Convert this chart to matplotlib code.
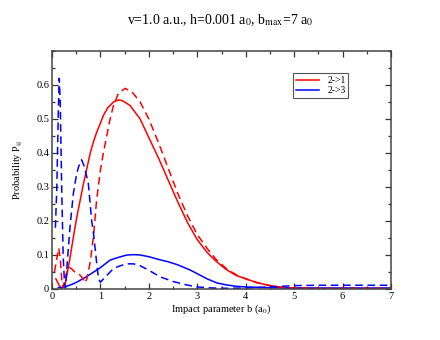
import matplotlib
matplotlib.use("Agg")
import matplotlib.pyplot as plt
from matplotlib.ticker import MultipleLocator

# 2->1, solid
b_21_s = [0.08, 0.15, 0.2, 0.27, 0.37, 0.45, 0.51, 0.58, 0.65, 0.72, 0.79, 0.85, 0.92, 1.0,
          1.06, 1.15, 1.27, 1.37, 1.45, 1.61, 1.82, 2.0, 2.2, 2.4, 2.6, 2.8, 3.0, 3.2, 3.4,
          3.6, 3.8, 4.0, 4.25, 4.5, 4.75, 5.0, 5.5, 6.0, 7.0]
p_21_s = [0.03, 0.01, 0.002, 0.012, 0.09, 0.16, 0.21, 0.26, 0.31, 0.355, 0.40, 0.43, 0.46,
          0.488, 0.51, 0.533, 0.55, 0.556, 0.554, 0.54, 0.50, 0.445, 0.385, 0.32, 0.255,
          0.195, 0.145, 0.108, 0.08, 0.057, 0.04, 0.03, 0.018, 0.01, 0.005, 0.002, 0.001,
          0.0005, 0.0]

# 2->1, dashed
b_21_d = [0.05, 0.1, 0.14, 0.17, 0.2, 0.23, 0.27, 0.34, 0.4, 0.47, 0.55, 0.61, 0.68, 0.72,
          0.79, 0.86, 0.92, 1.0, 1.06, 1.13, 1.2, 1.27, 1.37, 1.51, 1.65, 1.82, 2.0, 2.2, 2.4,
          2.6, 2.8, 3.0, 3.2, 3.4, 3.6, 3.8, 4.0, 4.25, 4.5, 4.75, 5.0, 5.5, 6.0, 7.0]
p_21_d = [0.05, 0.09, 0.12, 0.09, 0.03, 0.005, 0.03, 0.065, 0.06, 0.05, 0.045, 0.036, 0.018,
          0.03, 0.08, 0.16, 0.26, 0.35, 0.40, 0.45, 0.50, 0.54, 0.575, 0.59, 0.58, 0.55, 0.50,
          0.43, 0.355, 0.28, 0.215, 0.16, 0.12, 0.085, 0.06, 0.042, 0.03, 0.018, 0.01, 0.005,
          0.003, 0.002, 0.002, 0.002]

# 2->3, solid
b_23_s = [0.13, 0.2, 0.3, 0.4, 0.51, 0.7, 0.86, 1.0, 1.2, 1.37, 1.55, 1.7, 1.82, 2.0, 2.2,
          2.4, 2.58, 2.7, 2.85, 3.0, 3.2, 3.4, 3.6, 3.8, 4.0, 4.5, 5.0, 6.0, 7.0]
p_23_s = [0.004, 0.004, 0.008, 0.013, 0.02, 0.035, 0.05, 0.063, 0.085, 0.093, 0.1, 0.101,
          0.1, 0.095, 0.087, 0.08, 0.072, 0.065, 0.056, 0.045, 0.03, 0.018, 0.012, 0.008,
          0.006, 0.004, 0.003, 0.003, 0.003]

# 2->3, dashed
b_23_d = [0.07, 0.1, 0.13, 0.15, 0.17, 0.2, 0.23, 0.26, 0.28, 0.3, 0.37, 0.44, 0.51, 0.55,
          0.61, 0.67, 0.75, 0.82, 0.86, 0.92, 0.96, 1.0, 1.1, 1.2, 1.27, 1.4, 1.55, 1.68, 1.8,
          2.0, 2.23, 2.5, 2.78, 3.0, 3.3, 3.6, 4.0, 4.5, 5.0, 5.5, 6.0, 7.0]
p_23_d = [0.18, 0.3, 0.52, 0.62, 0.55, 0.3, 0.1, 0.01, 0.003, 0.05, 0.18, 0.28, 0.34, 0.36,
          0.38, 0.36, 0.31, 0.2, 0.16, 0.08, 0.03, 0.02, 0.035, 0.05, 0.06, 0.068, 0.074,
          0.074, 0.07, 0.055, 0.036, 0.022, 0.012, 0.006, 0.003, 0.002, 0.003, 0.006, 0.01,
          0.011, 0.011, 0.011]

plt.rcParams['font.family'] = ['Liberation Serif', 'DejaVu Serif']
plt.rcParams['mathtext.fontset'] = 'stix'

fig = plt.figure(figsize=(4.4, 3.4), dpi=100)
ax = fig.add_axes([52 / 440, 1 - 289 / 340, 339 / 440, 238 / 340])

lw = 1.1
ax.plot(b_21_s, p_21_s, color='red', lw=lw, label='2->1')
ax.plot(b_23_s, p_23_s, color='blue', lw=lw, label='2->3')
ax.plot(b_21_d, p_21_d, color='red', lw=lw, ls=(0, (5, 3)))
ax.plot(b_23_d, p_23_d, color='blue', lw=lw, ls=(0, (5, 3)))

ax.set_xlim(0, 7)
ax.set_ylim(0, 0.7)
ax.set_xticks(range(8))
ax.set_yticks([0, 0.1, 0.2, 0.3, 0.4, 0.5, 0.6])
ax.set_yticklabels(['0', '0.1', '0.2', '0.3', '0.4', '0.5', '0.6'])
ax.xaxis.set_minor_locator(MultipleLocator(0.5))
ax.yaxis.set_minor_locator(MultipleLocator(0.05))
ax.tick_params(which='both', direction='in', top=True, right=True, labelsize=7.5,
               color='#333333', width=0.9, pad=2)
ax.tick_params(which='major', length=4.5)
ax.tick_params(which='minor', length=2.5)
for s in ax.spines.values():
    s.set_color('#444444')
    s.set_linewidth(1.1)

ax.set_xlabel(r'Impact parameter b (a$_\mathrm{0}$)', fontsize=7.5, labelpad=1)
ax.set_ylabel(r'Probability P$_\mathrm{ij}$', fontsize=7.5, labelpad=8)
fig.text(0.5, 1 - 20 / 340,
         r'v=1.0 a.u., h=0.001 a$_\mathrm{0}$, b$_\mathrm{max}$=7 a$_\mathrm{0}$',
         ha='center', va='center', fontsize=10)

leg = ax.legend(loc='upper left', bbox_to_anchor=(0.697, 0.927), fontsize=7,
                fancybox=False, framealpha=1, edgecolor='#555555', handlelength=2.4,
                borderpad=0.3, labelspacing=0.1, handletextpad=0.8)
leg.get_frame().set_linewidth(0.8)

fig.savefig('out.png', dpi=100)
